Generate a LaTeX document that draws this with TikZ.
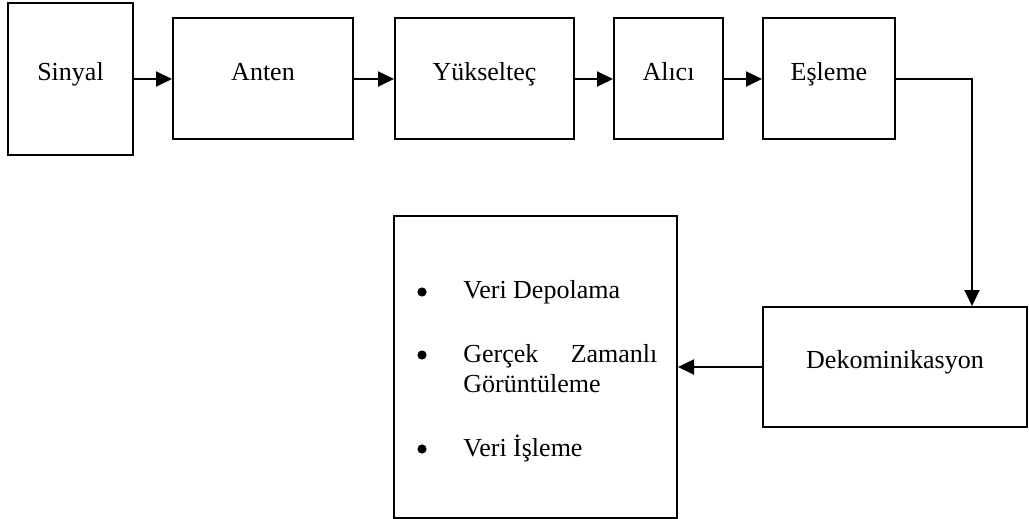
\documentclass[tikz,border=0pt]{standalone}
\usepackage{fontspec}
\setmainfont{Liberation Serif}
\usetikzlibrary{arrows.meta}
\begin{document}
\begin{tikzpicture}[x=.5pt,y=-.5pt,font=\fontsize{13}{15}\selectfont,
    kutu/.style={draw,line width=1pt,minimum height=60.5pt,text height=9pt,text depth=7.4pt},
    imlec/.style={circle,fill,inner sep=0,minimum size=4.6pt},
    ok/.style={line width=1pt,-{Triangle[length=8pt,width=7.5pt]}}]
  \useasboundingbox (0,0) rectangle (1029,519);
  % ust sira
  \node[kutu,minimum width=62.5pt,minimum height=76pt] (sinyal) at (70.5,79) {Sinyal};
  \node[kutu,minimum width=90pt] (anten) at (263,79) {Anten};
  \node[kutu,minimum width=89.5pt] (yukselt) at (484.5,79) {Yükselteç};
  \node[kutu,minimum width=54.5pt] (alici) at (668.5,79) {Alıcı};
  \node[kutu,minimum width=66pt] (esleme) at (829,79) {Eşleme};
  % alt sira
  \node[kutu,minimum width=132pt,minimum height=60pt] (dekom) at (895,367) {Dekominikasyon};
  \node[draw,line width=1pt,minimum width=141.5pt,minimum height=151pt] (liste) at (535.5,367) {};
  \node[imlec] (m1) at (422,292) {};
  \node[anchor=base west,inner sep=0] (veri) at (463,299) {Veri Depolama};
  \node[imlec] (m2) at (422,355) {};
  \node[anchor=base west,inner sep=0] (gz1) at (463,362) {\hbox to 97pt{Gerçek\hfill Zamanlı}};
  \node[anchor=base west,inner sep=0] (gz2) at (463,392) {Görüntüleme};
  \node[imlec] (m3) at (422,449) {};
  \node[anchor=base west,inner sep=0] (isleme) at (463,456) {Veri İşleme};
  % oklar
  \draw[ok] (sinyal) -- (anten);
  \draw[ok] (anten) -- (yukselt);
  \draw[ok] (yukselt) -- (alici);
  \draw[ok] (alici) -- (esleme);
  \coordinate (donus) at (972,79);
  \draw[ok] (esleme.east) -- (donus) -- (donus |- dekom.north);
  \draw[ok] (dekom) -- (liste);
\end{tikzpicture}
\end{document}
